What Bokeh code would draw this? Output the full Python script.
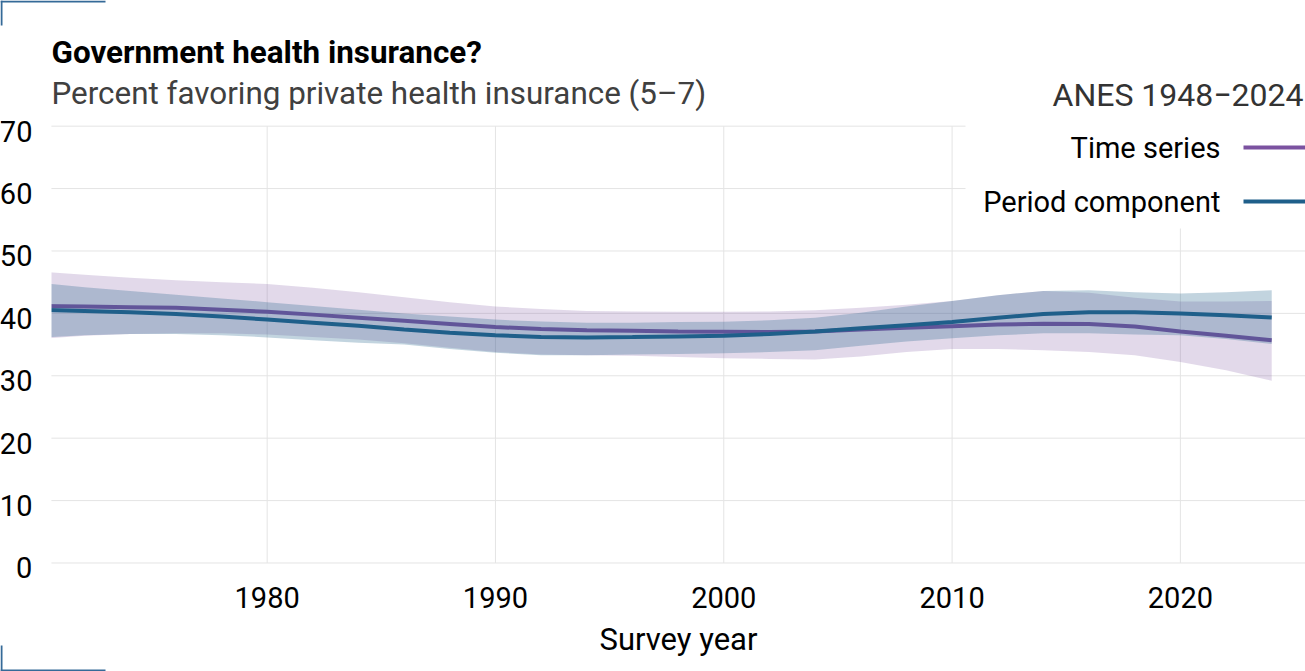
from bokeh.plotting import figure
from bokeh.models import Range1d, BoxAnnotation, Label, FixedTicker, LinearAxis
from bokeh.embed import file_html
from bokeh.resources import INLINE

# ---- data ----
years = [1970, 1972, 1974, 1976, 1978, 1980, 1982, 1984, 1986, 1988, 1990,
         1992, 1994, 1996, 1998, 2000, 2002, 2004, 2006, 2008, 2010, 2012,
         2014, 2016, 2018, 2020, 2022, 2024]

ts_mid = [41.2, 41.1, 41.0, 40.9, 40.6, 40.25, 39.8, 39.3, 38.8, 38.3, 37.8,
          37.5, 37.3, 37.2, 37.1, 37.05, 37.0, 37.1, 37.4, 37.7, 37.95, 38.2,
          38.35, 38.3, 37.9, 37.1, 36.4, 35.7]
ts_hi = [46.7, 46.2, 45.7, 45.3, 45.0, 44.7, 44.1, 43.4, 42.6, 41.8, 41.1,
         40.7, 40.4, 40.3, 40.25, 40.25, 40.3, 40.5, 40.9, 41.4, 42.0, 42.9,
         43.6, 43.3, 42.5, 41.9, 41.9, 42.0]
ts_lo = [35.9, 36.4, 36.7, 36.8, 36.8, 36.6, 36.2, 35.8, 35.2, 34.5, 33.8,
         33.4, 33.3, 33.2, 33.0, 32.8, 32.7, 32.6, 33.1, 33.8, 34.3, 34.3,
         34.1, 33.8, 33.3, 32.2, 30.9, 29.2]

pc_mid = [40.6, 40.4, 40.2, 39.9, 39.5, 39.0, 38.5, 38.0, 37.4, 36.9, 36.5,
          36.2, 36.15, 36.2, 36.3, 36.4, 36.7, 37.1, 37.6, 38.1, 38.6, 39.3,
          39.9, 40.2, 40.2, 40.0, 39.7, 39.35]
pc_hi = [44.9, 44.2, 43.6, 43.0, 42.4, 41.8, 41.2, 40.6, 40.0, 39.5, 39.0,
         38.7, 38.5, 38.5, 38.6, 38.65, 38.9, 39.3, 40.1, 41.1, 42.0, 42.9,
         43.6, 43.7, 43.4, 43.2, 43.4, 43.7]
pc_lo = [36.1, 36.5, 36.7, 36.7, 36.5, 36.15, 35.7, 35.3, 35.0, 34.3, 33.7,
         33.3, 33.3, 33.4, 33.5, 33.6, 33.8, 34.1, 34.8, 35.5, 36.0, 36.5,
         36.8, 36.8, 36.6, 36.5, 35.9, 35.1]

x_ticks = [1980, 1990, 2000, 2010, 2020]
y_ticks = [0, 10, 20, 30, 40, 50, 60, 70]

title_text = "Government health insurance?"
subtitle_text = "Percent favoring private health insurance (5\u20137)"
source_text = "ANES 1948\u22122024"
series_names = ["Time series", "Period component"]
axis_title = "Survey year"

# plotting-area limits (data units) and the full canvas span
X_LO, X_HI = 1970.55, 2025.48
Y_LO, Y_HI = 0, 70
CANVAS_X = (1968.32, 2025.48)
CANVAS_Y = (-17.39, 90.14)
LABEL_SHIFT = 0.8   # y tick labels sit a little below their grid line

PURPLE = "#7b52a0"
BLUE = "#1f5f8a"
BRACKET = "#356a98"
GRID = "#e4e4e4"
FONT = "Roboto"
W, H = 1305, 671


def sbox(l, r, b, t, color):
    return BoxAnnotation(left=l, right=r, bottom=b, top=t,
                         left_units="screen", right_units="screen",
                         bottom_units="screen", top_units="screen",
                         fill_color=color, fill_alpha=1.0, line_alpha=0)


def slabel(x, y, text, size, color="black", align="left", style="normal"):
    return Label(x=x, y=H - y, x_units="screen", y_units="screen",
                 text=text, text_font=FONT, text_font_size=size,
                 text_font_style=style, text_color=color,
                 text_align=align, text_baseline="alphabetic")


p = figure(width=W, height=H,
           x_range=Range1d(*CANVAS_X), y_range=Range1d(*CANVAS_Y),
           y_axis_location=None,
           output_backend="svg", toolbar_location=None,
           min_border=0, min_border_left=0, min_border_right=0,
           min_border_top=0, min_border_bottom=0)
p.outline_line_color = None
p.background_fill_color = "white"
p.border_fill_color = "white"
p.grid.visible = False
p.extra_y_ranges = {"lab": Range1d(CANVAS_Y[0] + LABEL_SHIFT, CANVAS_Y[1] + LABEL_SHIFT)}

# grid lines limited to the plotting area
p.segment(x0=x_ticks, y0=[Y_LO] * len(x_ticks), x1=x_ticks, y1=[Y_HI] * len(x_ticks),
          line_color=GRID, line_width=1)
p.segment(x0=[X_LO] * len(y_ticks), y0=y_ticks, x1=[X_HI] * len(y_ticks), y1=y_ticks,
          line_color=GRID, line_width=1)

p.varea(x=years, y1=ts_lo, y2=ts_hi, fill_color=PURPLE, fill_alpha=0.22)
p.line(years, ts_mid, line_color=PURPLE, line_width=4)
p.varea(x=years, y1=pc_lo, y2=pc_hi, fill_color=BLUE, fill_alpha=0.27)
p.line(years, pc_mid, line_color=BLUE, line_width=4)

# axes placed at the edges of the plotting area
yax = LinearAxis(y_range_name="lab", fixed_location=X_LO)
p.add_layout(yax, "left")
p.xaxis.fixed_location = Y_LO
p.xaxis.bounds = (X_LO, X_HI)
p.xaxis.ticker = FixedTicker(ticks=x_ticks)
yax.ticker = FixedTicker(ticks=y_ticks)
for ax in (p.xaxis[0], yax):
    ax.axis_line_color = None
    ax.major_tick_line_color = None
    ax.minor_tick_line_color = None
    ax.major_label_text_font = FONT
    ax.major_label_text_font_size = "29px"
    ax.major_label_text_color = "black"
yax.major_label_standoff = 13
p.xaxis.major_label_standoff = 18
p.xaxis.axis_label = axis_title
p.xaxis.axis_label_text_font = FONT
p.xaxis.axis_label_text_font_size = "31px"
p.xaxis.axis_label_text_font_style = "normal"
p.xaxis.axis_label_text_color = "black"
p.xaxis.axis_label_standoff = 10

# white masks: band ends left of the plotting area, and behind the legend block
p.add_layout(sbox(37, 51, 300, 420, "white"))
p.add_layout(sbox(965, W, 443, H, "white"))

# titles (the frame covers the canvas, so screen units = canvas pixels)
p.add_layout(slabel(51, 51.5, title_text, "31.4px", style="bold"))
p.add_layout(slabel(51, 92.5, subtitle_text, "31.4px", color="#404040"))
p.add_layout(slabel(1303, 94, source_text, "32px", color="#333333", align="right"))

# legend: label left of the line sample
for name, col, ly in zip(series_names, [PURPLE, BLUE], [147, 201]):
    p.add_layout(slabel(1220, ly, name, "29px", align="right"))
    p.add_layout(sbox(1243, W, H - ly - 2, H - ly + 2, col))

# corner brackets
for l, r, b, t in [(0, 105, H - 2, H), (0, 2, H - 25, H),
                   (0, 105, 0, 2), (0, 2, 0, 26)]:
    p.add_layout(sbox(l, r, b, t, BRACKET))

open("out.html", "w").write(file_html(p, INLINE))
